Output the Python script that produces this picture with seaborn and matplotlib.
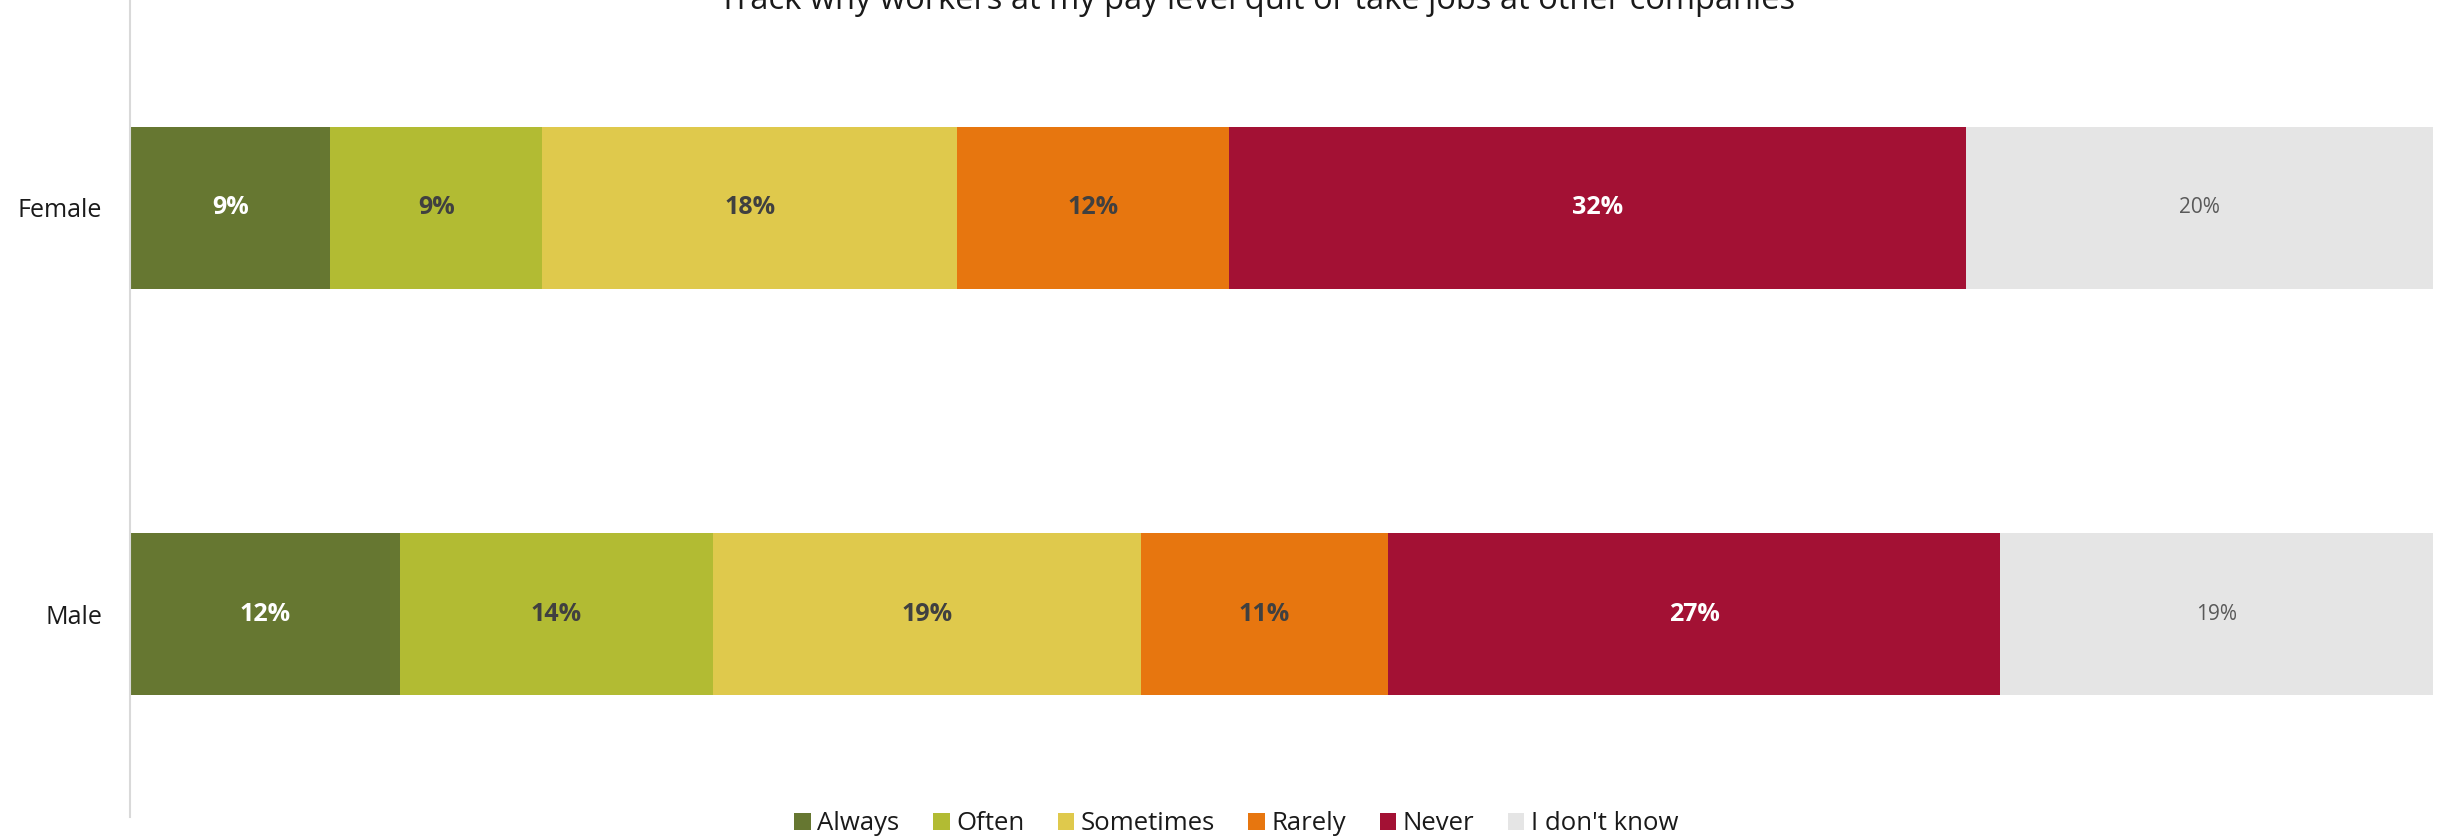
"""
Stacked horizontal bar chart: how often workers track why people quit, by gender
"""

import pandas as pd
import numpy as np
import matplotlib
matplotlib.use("Agg")
import matplotlib.pyplot as plt
import seaborn as sns
from matplotlib.patches import Patch

# Data
genders = ["Female", "Male"]
answers = ["Always", "Often", "Sometimes", "Rarely", "Never", "I don't know"]
female_pct = [8.7, 9.2, 18.0, 11.8, 32.0, 20.3]
male_pct = [11.7, 13.6, 18.6, 10.7, 26.6, 18.8]
title = "Track why workers at my pay level quit or take jobs at other companies"

colors = ["#667731", "#B2BB33", "#DFC94C", "#E7760F", "#A31134", "#E5E5E5"]
label_colors = ["white", "#404040", "#404040", "#404040", "white", "#595959"]
label_weights = ["bold", "bold", "bold", "bold", "bold", "normal"]

sns.set_style("white")
plt.rcParams["font.family"] = ["Open Sans", "DejaVu Sans"]

df = pd.DataFrame([female_pct, male_pct], index=genders, columns=answers)
cum = df.cumsum(axis=1)

fig = plt.figure(figsize=(24.53, 8.39), dpi=100)
ax = fig.add_axes([0.053, 0.026, 0.939, 0.974])

# draw cumulative totals from the widest down so each segment shows
for i in range(len(answers) - 1, -1, -1):
    plot_df = pd.DataFrame({"gender": genders, "value": cum[answers[i]].values})
    sns.barplot(data=plot_df, y="gender", x="value", order=genders,
                color=colors[i], orient="h", width=0.4, linewidth=0,
                saturation=1, ax=ax)

# segment labels
for j, g in enumerate(genders):
    for i, a in enumerate(answers):
        val = df.loc[g, a]
        center = cum.loc[g, a] - val / 2
        ax.text(center, j, f"{val:.0f}%", ha="center", va="center",
                color=label_colors[i], fontweight=label_weights[i],
                fontsize=18 if label_weights[i] == "bold" else 15)

ax.set_xlim(0, 100)
ax.set_ylim(1.5, -0.512)
ax.set_xlabel("")
ax.set_ylabel("")
ax.set_xticks([])
ax.tick_params(axis="y", length=0, pad=20, labelsize=18, labelcolor="#1a1a1a")
for side in ["top", "right", "bottom"]:
    ax.spines[side].set_visible(False)
ax.spines["left"].set_color("#D9D9D9")
ax.spines["left"].set_linewidth(1.5)

fig.text(0.5125, 0.999, title, ha="center", va="center", fontsize=23.5, color="#1a1a1a")

handles = [Patch(facecolor=c, edgecolor="none", label=a) for a, c in zip(answers, colors)]
fig.legend(handles=handles, loc="center", bbox_to_anchor=(0.504, 0.018), ncol=6,
           frameon=False, fontsize=18.5, handlelength=0.65, handleheight=0.65,
           handletextpad=0.25, columnspacing=1.3, labelcolor="#1a1a1a")

fig.savefig("out.png", dpi=100)
